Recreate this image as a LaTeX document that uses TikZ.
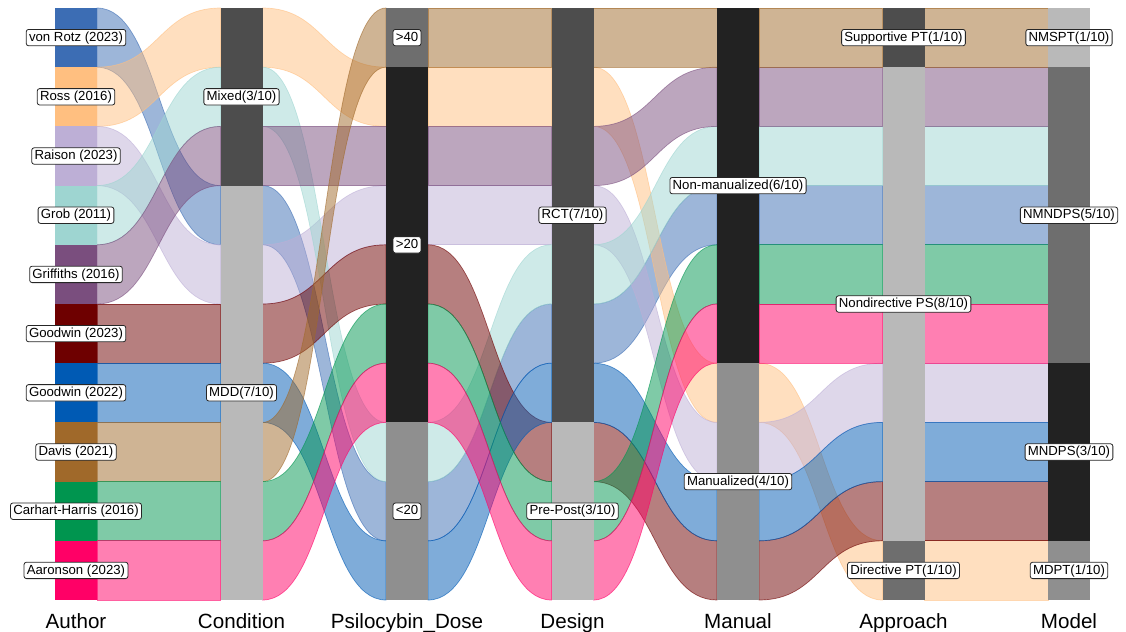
\documentclass[tikz,border=0pt]{standalone}
\usepackage{fontspec}
\setmainfont{Liberation Sans}
\usetikzlibrary{calc}
\definecolor{cVonRotz}{HTML}{3C6DB4}
\definecolor{cRoss}{HTML}{FFBF80}
\definecolor{cRaison}{HTML}{BDAFD6}
\definecolor{cGrob}{HTML}{9ED5D1}
\definecolor{cGriffiths}{HTML}{7A4E7E}
\definecolor{cGoodwinA}{HTML}{6E0000}
\definecolor{cGoodwinB}{HTML}{005AB4}
\definecolor{cDavis}{HTML}{A0692A}
\definecolor{cCarhart}{HTML}{00954F}
\definecolor{cAaronson}{HTML}{FF0066}
\definecolor{grA}{HTML}{222222}
\definecolor{grB}{HTML}{4D4D4D}
\definecolor{grC}{HTML}{6E6E6E}
\definecolor{grD}{HTML}{8F8F8F}
\definecolor{grE}{HTML}{B9B9B9}
\tikzset{
  flow/.style={fill=#1, fill opacity=0.5, draw=#1, draw opacity=0.6, line width=0.35pt},
  tag/.style={draw=black!85, fill=white, rounded corners=1.2pt, line width=0.4pt,
    inner xsep=1.4pt, inner ysep=1pt, text height=4.9pt, text depth=1.3pt,
    font=\fontsize{6.6}{7}\selectfont},
  axislabel/.style={anchor=base, font=\fontsize{10.3}{12}\selectfont}
}
\begin{document}
\begin{tikzpicture}[x=0.5pt, y=-0.5pt]
    \useasboundingbox (0,0) rectangle (1126,632);

    \foreach \k in {0,...,6} \foreach \s in {0,...,10} {
        \coordinate (in-\k-\s) at ({55+165.5*\k},{8+59.2*\s});
        \coordinate (out-\k-\s) at ({97+165.5*\k},{8+59.2*\s});
    }

    % one alluvium per study: slot on each axis
    \foreach \clr/\sa/\sb/\sc/\sd/\se/\sf/\sg in {
        cVonRotz/0/3/8/5/3/3/3, cRoss/1/0/1/1/6/9/9, cRaison/2/4/3/3/7/6/6,
        cGrob/3/1/7/4/2/2/2, cGriffiths/4/2/2/2/1/1/1, cGoodwinA/5/5/4/7/9/8/8,
        cGoodwinB/6/6/9/6/8/7/7, cDavis/7/7/0/0/0/0/0, cCarhart/8/8/5/8/4/4/4,
        cAaronson/9/9/6/9/5/5/5}
    {
        \foreach \k/\p/\q in {0/\sa/\sb, 1/\sb/\sc, 2/\sc/\sd, 3/\sd/\se, 4/\se/\sf, 5/\sf/\sg} {
            \pgfmathtruncatemacro\kk{\k+1}
            \pgfmathtruncatemacro\pp{\p+1}
            \pgfmathtruncatemacro\qq{\q+1}
            \path[flow=\clr] (out-\k-\p) .. controls +(62,0) and +(-62,0) .. (in-\kk-\q)
                -- (in-\kk-\qq) .. controls +(-62,0) and +(62,0) .. (out-\k-\pp) -- cycle;
        }
    }

    \foreach \clr/\t [count=\i from 0] in {cVonRotz/von Rotz (2023), cRoss/Ross (2016),
        cRaison/Raison (2023), cGrob/Grob (2011), cGriffiths/Griffiths (2016),
        cGoodwinA/Goodwin (2023), cGoodwinB/Goodwin (2022), cDavis/Davis (2021),
        cCarhart/Carhart-Harris (2016), cAaronson/Aaronson (2023)}
    {
        \pgfmathtruncatemacro\j{\i+1}
        \fill[\clr] (in-0-\i) rectangle (out-0-\j);
        \node[tag] (au\i) at ($(in-0-\i)!0.5!(out-0-\j)$) {\t};
    }

    \foreach \k/\a/\b/\g/\t in {1/0/3/grB/Mixed, 1/3/10/grE/MDD,
        3/0/7/grB/RCT, 3/7/10/grE/Pre-Post,
        4/0/6/grA/Non-manualized, 4/6/10/grD/Manualized,
        5/0/1/grB/Supportive PT, 5/1/9/grE/Nondirective PS, 5/9/10/grC/Directive PT,
        6/0/1/grE/NMSPT, 6/1/6/grC/NMNDPS, 6/6/9/grA/MNDPS, 6/9/10/grD/MDPT}
    {
        \pgfmathtruncatemacro\n{\b-\a}
        \fill[\g] (in-\k-\a) rectangle (out-\k-\b);
        \node[tag] (st\k-\a) at ($(in-\k-\a)!0.5!(out-\k-\b)$) {\t(\n/10)};
    }

    \foreach \a/\b/\g/\t in {0/1/grC/>40, 1/7/grA/>20, 7/10/grD/<20} {
        \fill[\g] (in-2-\a) rectangle (out-2-\b);
        \node[tag] (st2-\a) at ($(in-2-\a)!0.5!(out-2-\b)$) {\t};
    }

    \foreach \t [count=\i from 0] in {Author, Condition, Psilocybin\_Dose, Design, Manual, Approach, Model}
        \node[axislabel] (ax\i) at ({76+165.5*\i},628) {\t};
\end{tikzpicture}
\end{document}
